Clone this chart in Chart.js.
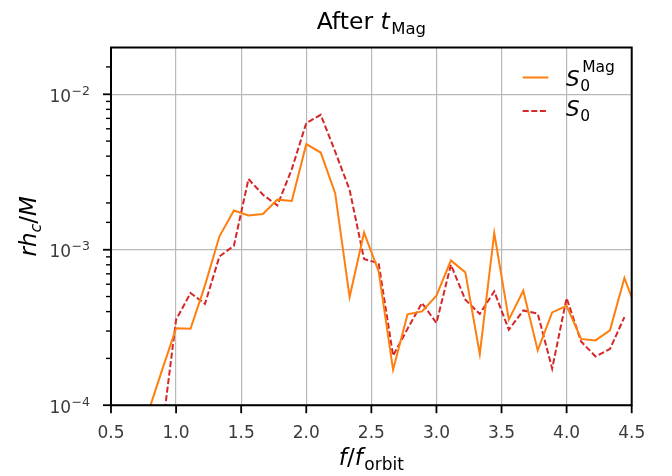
<!DOCTYPE html>
<html><head><meta charset="utf-8">
<script src="https://cdn.jsdelivr.net/npm/chart.js@4"></script>
<style>html,body{margin:0;padding:0;background:#fff}</style>
</head><body>
<canvas id="c" width="672" height="476"></canvas>
<script>
const freq = [0.778,0.889,1.0,1.111,1.222,1.333,1.444,1.556,1.667,1.778,1.889,2.0,2.111,2.222,2.333,2.444,2.556,2.667,2.778,2.889,3.0,3.111,3.222,3.333,3.444,3.556,3.667,3.778,3.889,4.0,4.111,4.222,4.333,4.444,4.556];
const s0Mag = [8.6e-5,1.65e-4,3.13e-4,3.1e-4,5.9e-4,1.22e-3,1.79e-3,1.66e-3,1.70e-3,2.10e-3,2.06e-3,4.78e-3,4.22e-3,2.31e-3,4.96e-4,1.29e-3,7.25e-4,1.69e-4,3.84e-4,4.01e-4,5.06e-4,8.54e-4,7.15e-4,2.13e-4,1.28e-3,3.55e-4,5.45e-4,2.25e-4,3.95e-4,4.36e-4,2.67e-4,2.61e-4,3.03e-4,6.58e-4,3.7e-4];
const s0 = [null,6.4e-5,3.55e-4,5.27e-4,4.48e-4,9.06e-4,1.06e-3,2.85e-3,2.26e-3,1.93e-3,3.3e-3,6.53e-3,7.38e-3,4.28e-3,2.43e-3,8.71e-4,8.2e-4,2.08e-4,3.1e-4,4.54e-4,3.38e-4,8.0e-4,4.77e-4,3.86e-4,5.4e-4,3.06e-4,4.07e-4,3.88e-4,1.72e-4,4.89e-4,2.57e-4,2.06e-4,2.3e-4,3.69e-4,null];
const xTickLabels = ['0.5','1.0','1.5','2.0','2.5','3.0','3.5','4.0','4.5'];
const yMajorExp = [-4,-3,-2];

const FF = '"DejaVu Sans", sans-serif';
const ORANGE = '#ff7f0e', RED = '#d62728';

function pts(arr){ const out=[]; arr.forEach((v,i)=>{ if(v!==null) out.push({x:freq[i], y:v}); }); return out; }
function isPow10(v){ const l=Math.log10(v); return Math.abs(l-Math.round(l))<1e-6; }

function drawParts(ctx, parts, x, y, align){
  let w=0;
  parts.forEach(p=>{ ctx.font=p.font; p.w=ctx.measureText(p.t).width; w+=p.w+(p.gap||0); });
  let cx = align==='center' ? x-w/2 : (align==='right' ? x-w : x);
  parts.forEach(p=>{ ctx.font=p.font; ctx.fillText(p.t, cx, y+(p.dy||0)); cx+=p.w+(p.gap||0); });
  return w;
}

const deco = {
  id:'deco',
  afterDraw(chart){
    const ctx=chart.ctx, a=chart.chartArea, xs=chart.scales.x, ys=chart.scales.y;
    ctx.save();
    ctx.textBaseline='alphabetic';
    ctx.textAlign='left';
    ctx.strokeStyle='#000';
    xTickLabels.forEach(t=>{
      const px=xs.getPixelForValue(parseFloat(t));
      ctx.lineWidth=1.8; ctx.beginPath(); ctx.moveTo(px,a.bottom); ctx.lineTo(px,a.bottom+8); ctx.stroke();
    });
    ys.ticks.forEach(t=>{
      const py=ys.getPixelForValue(t.value);
      if(py<a.top+1||py>a.bottom+0.5) return;
      const major=isPow10(t.value);
      ctx.lineWidth=major?1.8:1.4;
      ctx.beginPath(); ctx.moveTo(a.left,py); ctx.lineTo(a.left-(major?8:5),py); ctx.stroke();
    });
    ctx.lineWidth=2; ctx.strokeStyle='#000';
    ctx.strokeRect(a.left,a.top,a.right-a.left,a.bottom-a.top);
    ctx.fillStyle='#3a3a3a';
    yMajorExp.forEach(e=>{
      const py=ys.getPixelForValue(Math.pow(10,e));
      const xe=a.left-21;
      ctx.font='12.5px '+FF;
      const sup='\u2212'+Math.abs(e);
      const sw=ctx.measureText(sup).width;
      ctx.fillText(sup, xe-sw, py+0.5);
      ctx.font='17px '+FF;
      const tw=ctx.measureText('10').width;
      ctx.fillText('10', xe-sw-tw-0.5, py+7.5);
    });
    ctx.fillStyle='#000';
    const cxm=(a.left+a.right)/2;
    drawParts(ctx,[
      {t:'After ',font:'23.5px '+FF},
      {t:'t',font:'italic 23.5px '+FF,gap:1.5},
      {t:'Mag',font:'16.5px '+FF,dy:5}
    ],cxm,29,'center');
    drawParts(ctx,[
      {t:'f',font:'italic 23px '+FF},
      {t:'/',font:'23px '+FF},
      {t:'f',font:'italic 23px '+FF,gap:1.5},
      {t:'orbit',font:'17px '+FF,dy:5}
    ],cxm,465,'center');
    ctx.save();
    ctx.translate(36,(a.top+a.bottom)/2);
    ctx.rotate(-Math.PI/2);
    drawParts(ctx,[
      {t:'rh',font:'italic 23px '+FF},
      {t:'c',font:'italic 16px '+FF,dy:4.5},
      {t:'/',font:'23px '+FF},
      {t:'M',font:'italic 23px '+FF}
    ],0,0,'center');
    ctx.restore();
    const lx0=522.7, lx1=548.3, tx=566;
    ctx.lineWidth=2;
    ctx.strokeStyle=ORANGE; ctx.setLineDash([]);
    ctx.beginPath(); ctx.moveTo(lx0,77.5); ctx.lineTo(lx1,77.5); ctx.stroke();
    ctx.strokeStyle=RED; ctx.setLineDash([6,2.6]);
    ctx.beginPath(); ctx.moveTo(lx0,111); ctx.lineTo(lx1,111); ctx.stroke();
    ctx.setLineDash([]);
    ctx.fillStyle='#000';
    ctx.font='italic 21.5px '+FF;
    ctx.fillText('S',tx,86);
    const sW=ctx.measureText('S').width;
    ctx.font='15.5px '+FF;
    ctx.fillText('0',tx+sW+0.5,91);
    ctx.fillText('Mag',tx+sW+2.5,72);
    ctx.font='italic 21.5px '+FF;
    ctx.fillText('S',tx,116);
    ctx.font='15.5px '+FF;
    ctx.fillText('0',tx+sW+0.5,121);
    ctx.restore();
  }
};

new Chart(document.getElementById('c'),{
  type:'line',
  data:{datasets:[
    {label:'S0Mag',data:pts(s0Mag),borderColor:ORANGE,borderWidth:2,pointRadius:0,tension:0,fill:false},
    {label:'S0',data:pts(s0),borderColor:RED,borderWidth:2,borderDash:[6,2.6],pointRadius:0,tension:0,fill:false}
  ]},
  options:{
    responsive:false,animation:false,devicePixelRatio:1,
    layout:{padding:{top:47.5,right:40.3,left:0,bottom:0}},
    plugins:{legend:{display:false},title:{display:false},tooltip:{enabled:false}},
    scales:{
      x:{type:'linear',min:0.5,max:4.5,
        afterFit(s){ s.height=70.8; },
        border:{display:false},
        grid:{color:'#b8b8b8',lineWidth:1.2,drawTicks:false},
        ticks:{stepSize:0.5,autoSkip:false,maxRotation:0,padding:18,color:'#3a3a3a',
          font:{family:FF,size:17},
          callback:(v)=>{ const s=Number(v).toFixed(1); return xTickLabels.includes(s)?s:''; }}
      },
      y:{type:'logarithmic',min:1e-4,max:0.02,
        afterFit(s){ s.width=111; },
        border:{display:false},
        grid:{drawTicks:false,lineWidth:1.2,color:(c)=> (c.tick && isPow10(c.tick.value)) ? '#b8b8b8' : 'rgba(0,0,0,0)'},
        ticks:{display:false}
      }
    }
  },
  plugins:[deco]
});
</script>
</body></html>
